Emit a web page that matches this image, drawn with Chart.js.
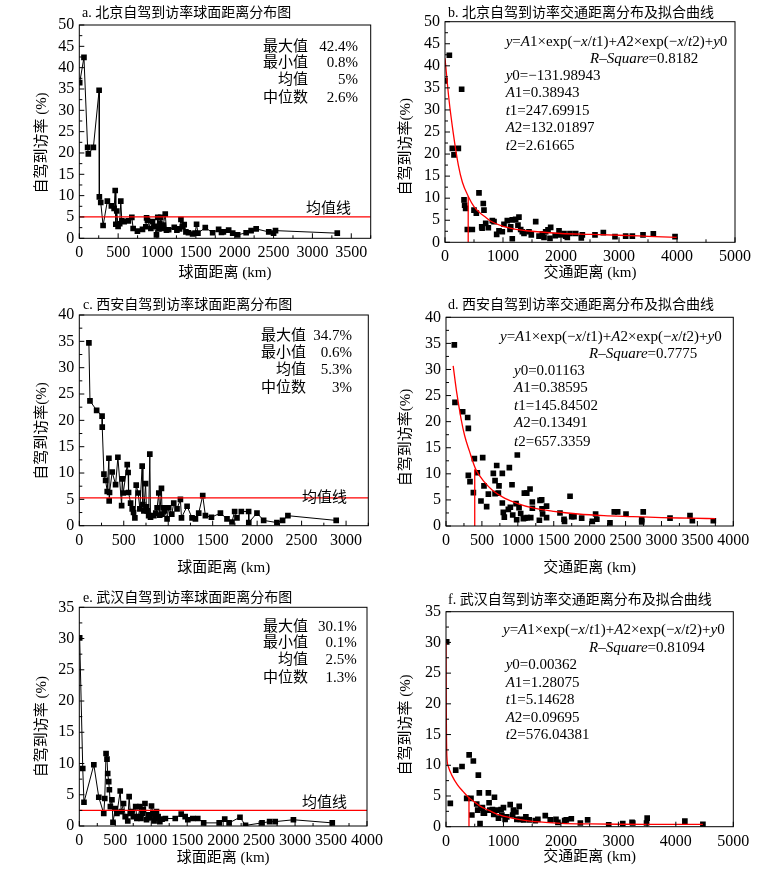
<!DOCTYPE html>
<html>
<head>
<meta charset="utf-8">
<script src="https://cdn.jsdelivr.net/npm/chart.js@4.4.0/dist/chart.umd.min.js"></script>
<style>
  body { margin: 0; background: #fff; }
  #wrap { position: relative; width: 774px; height: 875px; background: #fff; }
  canvas { position: absolute; }
</style>
</head>
<body>
<div id="wrap">
  <canvas id="pa" width="388" height="290" style="left:0;top:0"></canvas>
  <canvas id="pb" width="386" height="290" style="left:388px;top:0"></canvas>
  <canvas id="pc" width="388" height="290" style="left:0;top:290px"></canvas>
  <canvas id="pd" width="386" height="290" style="left:388px;top:290px"></canvas>
  <canvas id="pe" width="388" height="295" style="left:0;top:580px"></canvas>
  <canvas id="pf" width="386" height="295" style="left:388px;top:580px"></canvas>
</div>
<script>
// ---------- data: [distance km, rate %] ----------
const bjSpherePts = [[5,36.5],[60,42.4],[107,21.3],[116,19.8],[181,21.3],[255,34.7],[258,9.7],[276,8.4],[306,3.0],[361,8.7],[413,7.6],[448,7.0],[462,11.2],[470,3.3],[482,6.4],[499,2.8],[520,3.4],[534,8.7],[547,4.1],[577,3.9],[632,4.1],[676,4.9],[693,2.3],[748,1.7],[813,2.1],[856,2.7],[866,4.8],[877,4.2],[921,2.3],[942,3.9],[965,2.8],[993,0.8],[1010,4.9],[1025,2.2],[1037,3.5],[1048,4.9],[1063,2.3],[1080,3.1],[1106,5.7],[1122,1.9],[1150,2.0],[1222,2.6],[1256,1.9],[1290,2.2],[1308,4.4],[1329,2.7],[1350,3.2],[1372,1.5],[1405,1.3],[1458,1.0],[1490,1.2],[1509,3.3],[1527,1.2],[1621,2.5],[1716,1.3],[1793,2.1],[1830,1.4],[1854,1.5],[1922,1.9],[1974,1.2],[2038,0.8],[2147,1.3],[2211,1.8],[2276,2.2],[2438,1.5],[2500,1.2],[2525,1.8],[3320,1.2]];
const bjRoadPts = [[0,36.6],[75,42.4],[126,21.3],[155,19.8],[230,21.3],[287,34.7],[328,9.6],[339,8.4],[356,7.7],[385,2.9],[471,2.9],[500,7.3],[540,6.6],[586,11.2],[633,3.5],[640,3.2],[660,8.8],[672,7.3],[702,4.3],[747,3.3],[816,4.9],[845,4.7],[891,1.8],[931,2.6],[988,2.4],[1017,4.1],[1074,4.9],[1121,2.9],[1133,3.5],[1160,0.8],[1160,5.1],[1218,5.2],[1258,3.9],[1275,5.7],[1305,2.9],[1333,2.4],[1362,2.0],[1448,2.4],[1488,1.7],[1564,4.7],[1621,1.4],[1678,1.9],[1707,1.1],[1736,2.4],[1776,2.8],[1810,0.9],[1822,3.4],[1900,1.5],[1966,2.6],[1995,1.7],[2052,2.0],[2080,1.4],[2109,1.1],[2155,2.0],[2253,2.0],[2350,1.0],[2368,1.7],[2586,1.7],[2730,2.2],[2931,1.3],[3115,1.4],[3230,1.4],[3414,1.7],[3592,1.9],[3966,1.3]];
const bjFitKm = [0,69,143,230,300,402,500,600,690,800,1000,1200,1500,2000,2500,3000,3500,4000];
const bjFitRate = [41.7,32.3,24.7,17.5,13.6,10.4,8.1,6.7,5.8,4.7,3.6,3.0,2.5,2.0,1.8,1.6,1.35,1.1];

const xaSpherePts = [[108,34.7],[120,23.7],[195,21.9],[256,20.8],[258,18.7],[277,9.8],[296,8.6],[314,6.5],[333,12.8],[336,4.7],[340,6.3],[370,10.2],[408,7.8],[434,13.0],[476,3.8],[483,8.9],[494,6.2],[539,11.6],[549,10.1],[554,6.3],[577,4.3],[595,3.2],[610,2.5],[625,1.5],[640,7.7],[662,6.2],[681,3.2],[707,11.3],[715,4.0],[726,2.8],[745,8.0],[755,3.6],[763,2.8],[780,1.9],[793,13.6],[801,1.6],[838,1.9],[860,2.4],[875,3.4],[894,6.2],[905,2.0],[924,7.1],[931,2.2],[945,3.4],[961,2.8],[987,1.3],[1006,3.4],[1040,2.2],[1062,4.3],[1099,3.2],[1137,5.0],[1149,1.5],[1212,3.7],[1268,1.5],[1306,1.3],[1343,2.4],[1388,5.7],[1418,1.9],[1486,1.6],[1587,2.4],[1661,1.3],[1717,0.7],[1747,2.7],[1773,1.5],[1822,2.7],[1904,2.7],[1906,0.6],[1998,2.4],[2073,1.0],[2222,0.6],[2286,1.0],[2346,1.9],[2889,1.0]];
const xaRoadPts = [[116,34.7],[125,23.7],[232,21.9],[302,20.8],[311,18.7],[311,9.7],[334,8.5],[381,6.4],[395,12.9],[436,10.2],[487,4.8],[511,13.1],[529,7.7],[566,3.7],[590,6.1],[659,10.1],[683,8.7],[683,6.2],[706,11.6],[729,6.3],[738,7.7],[784,10.1],[784,4.4],[798,2.6],[812,1.7],[868,3.2],[882,11.2],[896,3.6],[919,7.9],[929,2.1],[975,4.3],[984,1.2],[993,13.6],[1017,3.5],[1040,2.4],[1077,1.4],[1091,6.3],[1100,1.5],[1124,6.3],[1130,1.6],[1170,7.1],[1180,1.6],[1202,4.6],[1202,3.4],[1300,1.1],[1309,4.9],[1332,5.0],[1337,3.3],[1345,2.3],[1400,3.8],[1400,1.6],[1587,2.5],[1643,1.3],[1650,0.9],[1727,5.7],[1750,1.8],[1782,1.8],[1889,1.5],[2037,0.9],[2083,2.3],[2100,1.3],[2283,0.6],[2343,2.7],[2390,2.7],[2506,2.3],[2725,0.8],[2725,1.2],[2746,2.7],[3119,1.5],[3397,2.0],[3430,1.0],[3722,1.0]];
const xaFitKm = [100,150,209,260,325,413,543,650,821,1000,1193,1500,1842,2200,2600,3000,3400,3750];
const xaFitRate = [30.7,25.5,20.6,17.3,14.4,10.9,8.3,6.8,5.3,4.3,3.5,2.8,2.3,2.0,1.8,1.6,1.5,1.4];

const whSpherePts = [[5,30.1],[48,9.2],[65,3.8],[202,9.8],[271,4.6],[340,2.0],[354,4.4],[372,11.6],[385,10.7],[395,8.4],[409,7.1],[418,5.8],[432,3.1],[454,4.2],[468,0.6],[500,2.8],[523,2.0],[569,5.6],[583,2.3],[615,3.6],[638,1.5],[674,0.8],[693,4.7],[710,2.0],[729,2.3],[752,1.5],[784,3.1],[800,1.2],[821,1.5],[844,3.1],[858,1.2],[875,2.0],[890,2.6],[913,3.6],[935,1.0],[958,1.8],[980,1.3],[1004,3.2],[1027,2.0],[1040,0.8],[1051,1.2],[1073,2.3],[1096,1.5],[1120,0.7],[1151,1.1],[1197,1.2],[1334,1.2],[1417,1.9],[1472,1.5],[1509,1.0],[1578,1.2],[1647,1.2],[1729,0.5],[1945,0.5],[2022,1.1],[2083,0.5],[2234,1.4],[2311,0.1],[2541,0.5],[2646,0.7],[2724,0.7],[2977,1.0],[3517,0.5]];
const whRoadPts = [[12,30.1],[75,3.8],[169,9.2],[279,9.8],[360,4.6],[403,11.7],[435,4.6],[450,1.9],[476,10.7],[535,3.7],[552,2.7],[563,8.4],[580,5.5],[592,0.5],[610,3.0],[634,3.1],[650,2.2],[669,2.2],[738,5.5],[750,3.9],[763,2.7],[808,2.8],[831,2.0],[843,4.8],[885,2.7],[913,1.4],[959,2.8],[972,1.9],[1000,3.1],[1029,1.2],[1058,1.6],[1117,3.6],[1160,1.9],[1174,2.7],[1216,2.4],[1233,1.2],[1274,3.3],[1291,1.2],[1349,1.1],[1390,1.6],[1448,1.1],[1553,1.0],[1599,1.2],[1728,1.8],[1814,1.1],[1914,1.2],[1948,0.7],[2065,1.0],[2093,1.1],[2181,1.3],[2338,0.6],[2465,1.1],[2832,0.3],[3076,0.5],[3238,0.7],[3251,0.6],[3490,0.6],[3501,1.4],[4157,0.9],[4471,0.4]];
const whFitKm = [0,3,8,15,40,100,200,300,389,500,600,738,900,1146,1400,1728,2000,2500,3000,3500,4000,4470];
const whFitRate = [30.1,22,15,11.5,9.8,8.4,6.8,5.7,4.8,4.0,3.3,2.7,2.0,1.4,1.0,0.7,0.55,0.45,0.4,0.38,0.37,0.37];

// x tick labels of each panel
const ticksA = [0,500,1000,1500,2000,2500,3000,3500];
const ticksB = [0,1000,2000,3000,4000,5000];
const ticksC = [0,500,1000,1500,2000,2500,3000];
const ticksD = [0,500,1000,1500,2000,2500,3000,3500,4000];
const ticksE = [0,500,1000,1500,2000,2500,3000,3500,4000];
const ticksF = [0,1000,2000,3000,4000,5000];

// mean values (均值) and the 400 km marker height on each fit curve
const meanRates = { bj: 5, xa: 5.3, wh: 2.5 };
const markerKm = 400;
const markerRate = { bj: 10.4, xa: 10.9, wh: 4.8 };

const statLabels = ["最大值", "最小值", "均值", "中位数"];
const bjStats = ["42.4%", "0.8%", "5%", "2.6%"];
const xaStats = ["34.7%", "0.6%", "5.3%", "3%"];
const whStats = ["30.1%", "0.1%", "2.5%", "1.3%"];

const bjFit = ["*y*0=−131.98943", "*A*1=0.38943", "*t*1=247.69915", "*A*2=132.01897", "*t*2=2.61665"];
const xaFit = ["*y*0=0.01163", "*A*1=0.38595", "*t*1=145.84502", "*A*2=0.13491", "*t*2=657.3359"];
const whFit = ["*y*0=0.00362", "*A*1=1.28075", "*t*1=5.14628", "*A*2=0.09695", "*t*2=576.04381"];
const fitFormula = "*y*=*A*1×exp(−*x*/*t*1)+*A*2×exp(−*x*/*t*2)+*y*0";

const FONT = "'Liberation Serif', 'Noto Sans CJK SC', serif";

function pts(list) {
  return list.map((p) => ({ x: p[0], y: p[1] }));
}
function curve(xs, ys) {
  return xs.map((x, i) => ({ x: x, y: ys[i] }));
}

// draw text with *italic* parts
function richText(ctx, str, x, y, size) {
  const parts = str.split("*");
  let cx = x;
  parts.forEach((part, i) => {
    if (!part) return;
    ctx.font = (i % 2 ? "italic " : "") + size + "px " + FONT;
    ctx.fillText(part, cx, y);
    cx += ctx.measureText(part).width;
  });
}

const panelDeco = {
  id: "panelDeco",
  afterDatasetsDraw(chart) {
    const d = chart.options.plugins.panelDeco;
    if (!d) return;
    const ctx = chart.ctx;
    const a = chart.chartArea;
    const xs = chart.scales.x;
    const ys = chart.scales.y;
    ctx.save();
    ctx.strokeStyle = "#000";
    ctx.lineWidth = 1;
    ctx.strokeRect(a.left, a.top, a.right - a.left, a.bottom - a.top);

    // inward ticks, minor ones at half steps
    ctx.beginPath();
    for (let v = 0; v <= xs.max + 0.01; v += d.xStep / 2) {
      const px = xs.getPixelForValue(v);
      const len = v % d.xStep === 0 ? 5 : 3;
      ctx.moveTo(px, a.bottom);
      ctx.lineTo(px, a.bottom - len);
    }
    for (let v = 0; v <= ys.max + 0.01; v += d.yStep / 2) {
      const py = ys.getPixelForValue(v);
      const len = v % d.yStep === 0 ? 5 : 3;
      ctx.moveTo(a.left, py);
      ctx.lineTo(a.left + len, py);
    }
    ctx.stroke();

    ctx.fillStyle = "#000";
    ctx.textBaseline = "middle";

    // panel title
    ctx.font = "14px " + FONT;
    ctx.textAlign = "left";
    ctx.fillText(d.title, d.titleX, d.titleY);

    // y axis title
    ctx.save();
    ctx.translate(d.yTitleX, d.yTitleY);
    ctx.rotate(-Math.PI / 2);
    ctx.textAlign = "center";
    ctx.font = "15px " + FONT;
    ctx.fillText(d.yTitle, 0, 0);
    ctx.restore();

    if (d.stats) {
      ctx.font = "15px " + FONT;
      ctx.textAlign = "right";
      statLabels.forEach((lab, i) => {
        ctx.fillText(lab, d.labelRight, d.statY[i]);
        ctx.fillText(d.stats[i], d.valueRight, d.statY[i]);
      });
      ctx.textAlign = "left";
      ctx.fillText("均值线", d.meanX, d.meanY);
    }

    if (d.fit) {
      ctx.textAlign = "left";
      richText(ctx, fitFormula, d.formulaX, d.formulaY, 15);
      richText(ctx, "*R–Square*=" + d.rSquare, d.rX, d.rY, 15);
      d.fit.forEach((line, i) => {
        richText(ctx, line, d.fitX, d.fitY[i], 15);
      });
    }
    ctx.restore();
  },
};
Chart.register(panelDeco);

function dotSet(list, joined) {
  return {
    data: pts(list),
    showLine: joined,
    borderColor: "#000",
    borderWidth: 1,
    pointStyle: "rect",
    pointRadius: 4,
    pointBackgroundColor: "#000",
    pointBorderColor: "#000",
    pointBorderWidth: 0,
    order: 2,
  };
}
function redLine(data, smooth) {
  return {
    data: data,
    showLine: true,
    borderColor: "#f00",
    borderWidth: 1.3,
    pointRadius: 0,
    cubicInterpolationMode: smooth ? "monotone" : "default",
    order: 1,
  };
}

function makePanel(id, cfg) {
  const tickFont = { family: FONT, size: 16 };
  new Chart(document.getElementById(id), {
    type: "scatter",
    data: { datasets: cfg.datasets },
    options: {
      responsive: false,
      animation: false,
      layout: {
        autoPadding: false,
        padding: { left: 0, top: cfg.pad.t, right: cfg.pad.r, bottom: 0 },
      },
      plugins: {
        legend: { display: false },
        tooltip: { enabled: false },
        panelDeco: cfg.deco,
      },
      scales: {
        x: {
          type: "linear",
          min: 0,
          max: cfg.xMax,
          grid: { display: false, drawTicks: false },
          border: { display: false },
          afterBuildTicks: (s) => {
            s.ticks = cfg.xTicks.map((v) => ({ value: v }));
          },
          ticks: {
            autoSkip: false,
            maxRotation: 0,
            padding: 5,
            color: "#000",
            font: tickFont,
            callback: (v) => String(v),
          },
          title: {
            display: true,
            text: cfg.xTitle,
            color: "#000",
            font: { family: FONT, size: 15 },
            padding: { top: 0, bottom: cfg.xTitlePad },
          },
          afterFit: (s) => {
            s.height = cfg.pad.b;
          },
        },
        y: {
          type: "linear",
          min: 0,
          max: cfg.yMax,
          grid: { display: false, drawTicks: false },
          border: { display: false },
          ticks: {
            stepSize: cfg.yStep,
            autoSkip: false,
            padding: 5,
            color: "#000",
            font: tickFont,
          },
          afterFit: (s) => {
            s.width = cfg.pad.l;
          },
        },
      },
    },
  });
}

window.onload = () => {
  // a. Beijing, spherical distance
  makePanel("pa", {
    xMax: 3750, xTicks: ticksA, yMax: 50, yStep: 5,
    pad: { l: 79.3, r: 17.3, t: 25, b: 51.7 },
    xTitle: "球面距离 (km)", xTitlePad: 7.7,
    datasets: [
      dotSet(bjSpherePts, true),
      redLine([{ x: 0, y: meanRates.bj }, { x: 3750, y: meanRates.bj }], false),
    ],
    deco: {
      xStep: 500, yStep: 5,
      title: "a. 北京自驾到访率球面距离分布图", titleX: 82, titleY: 13,
      yTitle: "自驾到访率 (%)", yTitleX: 41.7, yTitleY: 143,
      stats: bjStats, labelRight: 308, valueRight: 358, statY: [46.7, 63, 80, 97.7],
      meanX: 306, meanY: 209,
    },
  });

  // b. Beijing, road distance + fit
  makePanel("pb", {
    xMax: 5000, xTicks: ticksB, yMax: 50, yStep: 5,
    pad: { l: 57, r: 39, t: 21.7, b: 47.7 },
    xTitle: "交通距离 (km)", xTitlePad: 8,
    datasets: [
      dotSet(bjRoadPts, false),
      redLine(curve(bjFitKm, bjFitRate), true),
      redLine([{ x: markerKm, y: 0 }, { x: markerKm, y: markerRate.bj }], false),
    ],
    deco: {
      xStep: 1000, yStep: 5,
      title: "b. 北京自驾到访率交通距离分布及拟合曲线", titleX: 60, titleY: 13,
      yTitle: "自驾到访率(%)", yTitleX: 17.7, yTitleY: 146.7,
      fit: bjFit, rSquare: "0.8182",
      formulaX: 117.7, formulaY: 41.7, rX: 202, rY: 59.3,
      fitX: 117.7, fitY: [76, 93.3, 110.7, 128.3, 146],
    },
  });

  // c. Xi'an, spherical distance
  makePanel("pc", {
    xMax: 3250, xTicks: ticksC, yMax: 40, yStep: 5,
    pad: { l: 79.3, r: 19.7, t: 25, b: 54.3 },
    xTitle: "球面距离 (km)", xTitlePad: 3,
    datasets: [
      dotSet(xaSpherePts, true),
      redLine([{ x: 0, y: meanRates.xa }, { x: 3250, y: meanRates.xa }], false),
    ],
    deco: {
      xStep: 500, yStep: 5,
      title: "c. 西安自驾到访率球面距离分布图", titleX: 83, titleY: 15,
      yTitle: "自驾到访率(%)", yTitleX: 41.7, yTitleY: 141,
      stats: xaStats, labelRight: 306, valueRight: 352, statY: [46, 63.3, 80, 97.7],
      meanX: 302, meanY: 208,
    },
  });

  // d. Xi'an, road distance + fit
  makePanel("pd", {
    xMax: 4000, xTicks: ticksD, yMax: 40, yStep: 5,
    pad: { l: 58, r: 40.7, t: 27.3, b: 54 },
    xTitle: "交通距离 (km)", xTitlePad: 3,
    datasets: [
      dotSet(xaRoadPts, false),
      redLine(curve(xaFitKm, xaFitRate), true),
      redLine([{ x: markerKm, y: 0 }, { x: markerKm, y: markerRate.xa }], false),
    ],
    deco: {
      xStep: 500, yStep: 5,
      title: "d. 西安自驾到访率交通距离分布及拟合曲线", titleX: 60, titleY: 15,
      yTitle: "自驾到访率(%)", yTitleX: 17.7, yTitleY: 147.5,
      fit: xaFit, rSquare: "0.7775",
      formulaX: 112, formulaY: 46.7, rX: 201, rY: 64,
      fitX: 126, fitY: [80.7, 98.3, 116, 133.3, 151.7],
    },
  });

  // e. Wuhan, spherical distance
  makePanel("pe", {
    xMax: 4000, xTicks: ticksE, yMax: 35, yStep: 5,
    pad: { l: 79.3, r: 18, t: 27.3, b: 49 },
    xTitle: "球面距离 (km)", xTitlePad: 8,
    datasets: [
      dotSet(whSpherePts, true),
      redLine([{ x: 0, y: meanRates.wh }, { x: 4000, y: meanRates.wh }], false),
    ],
    deco: {
      xStep: 500, yStep: 5,
      title: "e. 武汉自驾到访率球面距离分布图", titleX: 83, titleY: 18,
      yTitle: "自驾到访率 (%)", yTitleX: 41.7, yTitleY: 146.7,
      stats: whStats, labelRight: 308, valueRight: 356.7, statY: [46.7, 63.3, 80, 97.7],
      meanX: 302, meanY: 223.5,
    },
  });

  // f. Wuhan, road distance + fit
  makePanel("pf", {
    xMax: 5000, xTicks: ticksF, yMax: 35, yStep: 5,
    pad: { l: 58, r: 40.7, t: 31.7, b: 48.3 },
    xTitle: "交通距离 (km)", xTitlePad: 9.3,
    datasets: [
      dotSet(whRoadPts, false),
      redLine(curve(whFitKm, whFitRate), true),
      redLine([{ x: markerKm, y: 0 }, { x: markerKm, y: markerRate.wh }], false),
    ],
    deco: {
      xStep: 1000, yStep: 5,
      title: "f. 武汉自驾到访率交通距离分布及拟合曲线", titleX: 60, titleY: 20,
      yTitle: "自驾到访率 (%)", yTitleX: 17.7, yTitleY: 145,
      fit: whFit, rSquare: "0.81094",
      formulaX: 115, formulaY: 50, rX: 201, rY: 68.3,
      fitX: 117.7, fitY: [85, 102.7, 120, 137.7, 155],
    },
  });
};
</script>
</body>
</html>
